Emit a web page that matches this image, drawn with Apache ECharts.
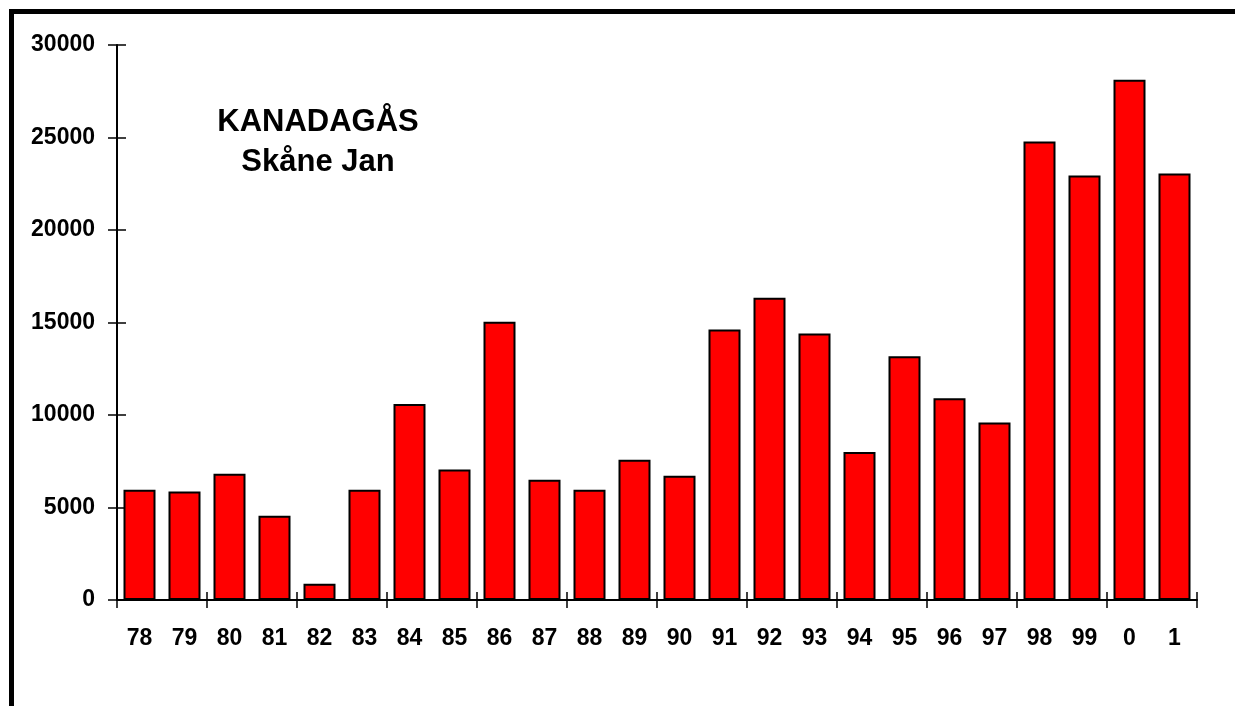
<!DOCTYPE html>
<html>
<head>
<meta charset="utf-8">
<title>KANADAGÅS Skåne Jan</title>
<script src="https://cdn.jsdelivr.net/npm/echarts@6/dist/echarts.min.js"></script>
<style>
  html, body { margin: 0; padding: 0; background: #fff; }
  #chart { width: 1235px; height: 706px; }
</style>
</head>
<body>
<div id="chart"></div>
<script>
// år (78 = 1978 ... 1 = 2001)
const years = ['78', '79', '80', '81', '82', '83', '84', '85', '86', '87', '88', '89',
  '90', '91', '92', '93', '94', '95', '96', '97', '98', '99', '0', '1']
// antal kanadagäss, januari
const counts = [5960, 5870, 6820, 4550, 880, 5960, 10600, 7050, 15040, 6500, 5960, 7580,
  6710, 14620, 16340, 14400, 8000, 13180, 10910, 9600, 24780, 22950, 28120, 23050]
const yTicks = [0, 5000, 10000, 15000, 20000, 25000, 30000]

const font = '"Liberation Sans", Arial, sans-serif'
const myChart = echarts.init(document.getElementById('chart'))

const tickStyle = { color: '#000', width: 1.5 }
const everyOther = idx => idx % 2 === 0

const option = {
  animation: false,
  backgroundColor: '#fff',
  title: {
    text: 'KANADAGÅS\nSkåne Jan',
    left: 318,
    top: 102,
    textAlign: 'center',
    padding: 0,
    textStyle: {
      fontFamily: font,
      fontWeight: 'bold',
      fontSize: 31,
      lineHeight: 40,
      color: '#000'
    }
  },
  grid: {
    left: 117,
    top: 45,
    right: 38,
    bottom: 106
  },
  xAxis: [
    {
      type: 'category',
      data: years,
      position: 'bottom',
      axisLine: { show: true, lineStyle: { color: '#000', width: 2 } },
      axisTick: { show: true, length: 8, interval: everyOther, lineStyle: tickStyle },
      axisLabel: {
        interval: 0,
        margin: 27,
        fontFamily: font,
        fontWeight: 'bold',
        fontSize: 23,
        color: '#000'
      }
    },
    {
      // inre halvan av strecken
      type: 'category',
      data: years,
      position: 'bottom',
      axisLine: { show: false },
      axisTick: { show: true, inside: true, length: 8, interval: everyOther, lineStyle: tickStyle },
      axisLabel: { show: false }
    }
  ],
  yAxis: [
    {
      type: 'value',
      min: 0,
      max: 30000,
      interval: 5000,
      axisLine: { show: true, lineStyle: { color: '#000', width: 2 } },
      axisTick: { show: true, length: 9, lineStyle: tickStyle },
      splitLine: { show: false },
      axisLabel: {
        margin: 22,
        fontFamily: font,
        fontWeight: 'bold',
        fontSize: 23,
        color: '#000',
        formatter: v => (yTicks.includes(v) ? String(v) : '')
      }
    },
    {
      type: 'value',
      position: 'left',
      min: 0,
      max: 30000,
      interval: 5000,
      axisLine: { show: false },
      axisTick: { show: true, inside: true, length: 9, lineStyle: tickStyle },
      splitLine: { show: false },
      axisLabel: { show: false }
    }
  ],
  graphic: [
    { type: 'rect', shape: { x: 9, y: 9, width: 5, height: 697 }, style: { fill: '#000' } },
    { type: 'rect', shape: { x: 9, y: 9, width: 1226, height: 5 }, style: { fill: '#000' } }
  ],
  series: [
    {
      name: 'Kanadagås',
      type: 'bar',
      xAxisIndex: 0,
      yAxisIndex: 0,
      barWidth: 32,
      data: counts,
      itemStyle: {
        color: '#ff0000',
        borderColor: '#000',
        borderWidth: 2
      }
    }
  ]
}

myChart.setOption(option)
</script>
</body>
</html>
